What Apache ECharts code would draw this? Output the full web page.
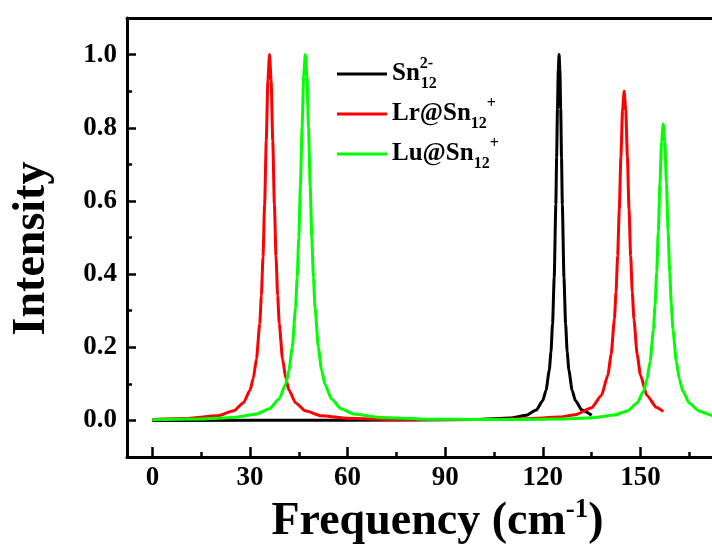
<!DOCTYPE html>
<html>
<head>
<meta charset="utf-8">
<script src="https://cdn.jsdelivr.net/npm/echarts@6/dist/echarts.min.js"></script>
<style>
html,body{margin:0;padding:0;background:#fff;}
#chart{width:712px;height:545px;}
</style>
</head>
<body>
<div id="chart"></div>
<script>
// ---- data ----
const seriesNames = ['Sn12 2-', 'Lr@Sn12 +', 'Lu@Sn12 +'];
const seriesColors = ['#000000', '#ff0000', '#00ff00'];

const snX = [0, 60, 100, 110, 115, 118, 120, 121, 122, 122.5, 123, 123.5, 124, 124.25, 124.5, 124.75, 125, 125.25, 125.5, 125.75, 126, 126.5, 127, 127.5, 128, 129, 130, 132, 135];
const snY = [0, 0.0003, 0.0023, 0.0064, 0.0142, 0.0285, 0.0545, 0.0826, 0.138, 0.187, 0.265, 0.39, 0.59, 0.719, 0.852, 0.958, 1, 0.958, 0.852, 0.719, 0.59, 0.39, 0.265, 0.187, 0.138, 0.0826, 0.0545, 0.0285, 0.0142];

const lrX = [0, 10, 20, 25, 28, 30, 31, 32, 33, 33.5, 34, 34.5, 35, 35.5, 36, 36.5, 37, 37.5, 38, 38.5, 39, 40, 41, 42, 44, 47, 52, 60, 75, 90, 105, 115, 125, 130, 135, 138, 140, 141, 142, 142.5, 143, 143.5, 144, 144.5, 145, 145.5, 146, 146.5, 147, 147.5, 148, 149, 150, 152, 155, 157];
const lrY = [0.0027, 0.005, 0.0125, 0.0261, 0.0482, 0.0826, 0.1147, 0.1684, 0.2647, 0.3414, 0.4475, 0.5902, 0.7642, 0.9284, 1, 0.9284, 0.7642, 0.5902, 0.4475, 0.3414, 0.2647, 0.1684, 0.1147, 0.0826, 0.0482, 0.0261, 0.0125, 0.0056, 0.0028, 0.0023, 0.003, 0.0045, 0.009, 0.0157, 0.0346, 0.0679, 0.124, 0.18, 0.277, 0.351, 0.45, 0.576, 0.72, 0.847, 0.9, 0.847, 0.72, 0.576, 0.45, 0.351, 0.277, 0.18, 0.124, 0.068, 0.035, 0.024];

const luX = [0, 15, 25, 32, 36, 39, 41, 42, 43, 44, 44.5, 45, 45.5, 46, 46.5, 47, 47.5, 48, 48.5, 49, 49.5, 50, 51, 52, 53, 55, 58, 62, 70, 85, 100, 115, 125, 135, 142, 146, 149, 151, 152, 153, 154, 154.5, 155, 155.5, 156, 156.5, 157, 157.5, 158, 158.5, 159, 159.5, 160, 161, 162, 163, 165, 168, 172, 175];
const luY = [0.002, 0.0039, 0.0082, 0.0175, 0.032, 0.059, 0.1, 0.138, 0.2, 0.308, 0.39, 0.5, 0.64, 0.8, 0.941, 1, 0.941, 0.8, 0.64, 0.5, 0.39, 0.308, 0.2, 0.138, 0.1, 0.059, 0.032, 0.0175, 0.008, 0.0034, 0.0024, 0.0027, 0.0038, 0.007, 0.0145, 0.026, 0.0476, 0.081, 0.112, 0.162, 0.249, 0.316, 0.405, 0.518, 0.648, 0.762, 0.81, 0.762, 0.648, 0.518, 0.405, 0.316, 0.249, 0.162, 0.112, 0.081, 0.0476, 0.026, 0.0141, 0.0099];

const xTicks = [0, 30, 60, 90, 120, 150];
const xMinor = [15, 45, 75, 105, 135, 165];
const yTicks = [0, 0.2, 0.4, 0.6, 0.8, 1.0];
const yMinor = [0.1, 0.3, 0.5, 0.7, 0.9];
// ---------------------------------------

const FONT = '"Liberation Serif", "Times New Roman", serif';
const zip = (xs, ys) => xs.map((x, i) => [x, ys[i]]);
const seriesData = [zip(snX, snY), zip(lrX, lrY), zip(luX, luY)];

const legendText = {};
legendText[seriesNames[0]] = '{b|Sn}{sp|2-}{sb|12}';
legendText[seriesNames[1]] = '{b|Lr@Sn}{sb|12}{sp|+}';
legendText[seriesNames[2]] = '{b|Lu@Sn}{sb|12}{sp|+}';

const chart = echarts.init(document.getElementById('chart'), null, {renderer: 'canvas'});

const baseX = {type: 'value', min: -7.8, max: 172, splitLine: {show: false}};
const baseY = {type: 'value', min: -0.1, max: 1.1, splitLine: {show: false}};

chart.setOption({
  animation: false,
  backgroundColor: '#ffffff',
  grid: {left: 127, right: 0, top: 18, bottom: 88, containLabel: false, outerBoundsMode: 'none'},
  legend: {
    orient: 'vertical', left: 332, top: 51,
    itemWidth: 50, itemHeight: 3, itemGap: 4, icon: 'rect',
    data: seriesNames,
    formatter: name => legendText[name],
    selectedMode: false,
    textStyle: {
      fontFamily: FONT, fontWeight: 'bold', fontSize: 25, color: '#000',
      rich: {
        b: {fontFamily: FONT, fontWeight: 'bold', fontSize: 25, color: '#000', lineHeight: 36},
        sb: {fontFamily: FONT, fontWeight: 'bold', fontSize: 16, color: '#000', lineHeight: 21, verticalAlign: 'bottom'},
        sp: {fontFamily: FONT, fontWeight: 'bold', fontSize: 16, color: '#000', lineHeight: 25, verticalAlign: 'top', width: 1}
      }
    }
  },
  xAxis: [
    Object.assign({}, baseX, {
      position: 'bottom',
      axisLine: {show: true, onZero: false, lineStyle: {color: '#000', width: 3}},
      axisTick: {show: true, inside: true, length: 10, customValues: xTicks, lineStyle: {color: '#000', width: 2.5}},
      axisLabel: {show: true, customValues: xTicks, margin: 8, color: '#000', fontFamily: FONT, fontWeight: 'bold', fontSize: 27},
      name: '{a|Frequency (cm}{s|-1}{a|)}',
      nameLocation: 'middle', nameGap: 29,
      nameTextStyle: {
        color: '#000',
        padding: [0, 0, 0, 36],
        rich: {
          a: {fontFamily: FONT, fontWeight: 'bold', fontSize: 46, color: '#000', lineHeight: 50},
          s: {fontFamily: FONT, fontWeight: 'bold', fontSize: 27, color: '#000', lineHeight: 38, verticalAlign: 'top'}
        }
      }
    }),
    Object.assign({}, baseX, {
      position: 'bottom',
      axisLine: {show: false, onZero: false},
      axisTick: {show: true, inside: true, length: 5, customValues: xMinor, lineStyle: {color: '#000', width: 2.5}},
      axisLabel: {show: false}
    }),
    Object.assign({}, baseX, {
      position: 'top',
      axisLine: {show: true, onZero: false, lineStyle: {color: '#000', width: 3}},
      axisTick: {show: false},
      axisLabel: {show: false}
    })
  ],
  yAxis: [
    Object.assign({}, baseY, {
      position: 'left',
      axisLine: {show: true, onZero: false, lineStyle: {color: '#000', width: 3}},
      axisTick: {show: true, inside: true, length: 9, customValues: yTicks, lineStyle: {color: '#000', width: 2.5}},
      axisLabel: {show: true, customValues: yTicks, margin: 10, formatter: v => v.toFixed(1), color: '#000', fontFamily: FONT, fontWeight: 'bold', fontSize: 27},
      name: 'Intensity',
      nameLocation: 'middle', nameRotate: 90, nameGap: 70,
      nameTextStyle: {fontFamily: FONT, fontWeight: 'bold', fontSize: 46, color: '#000', lineHeight: 50, padding: [0, 22, 0, 0]}
    }),
    Object.assign({}, baseY, {
      position: 'left',
      axisLine: {show: false, onZero: false},
      axisTick: {show: true, inside: true, length: 5, customValues: yMinor, lineStyle: {color: '#000', width: 2.5}},
      axisLabel: {show: false}
    })
  ],
  series: seriesNames.map((n, i) => ({
    name: n,
    type: 'line',
    xAxisIndex: 0,
    yAxisIndex: 0,
    data: seriesData[i],
    showSymbol: false,
    symbol: 'none',
    clip: true,
    smooth: 0.2,
    smoothMonotone: 'x',
    color: seriesColors[i],
    lineStyle: {color: seriesColors[i], width: 3},
    z: 2 + i
  }))
});
</script>
</body>
</html>
